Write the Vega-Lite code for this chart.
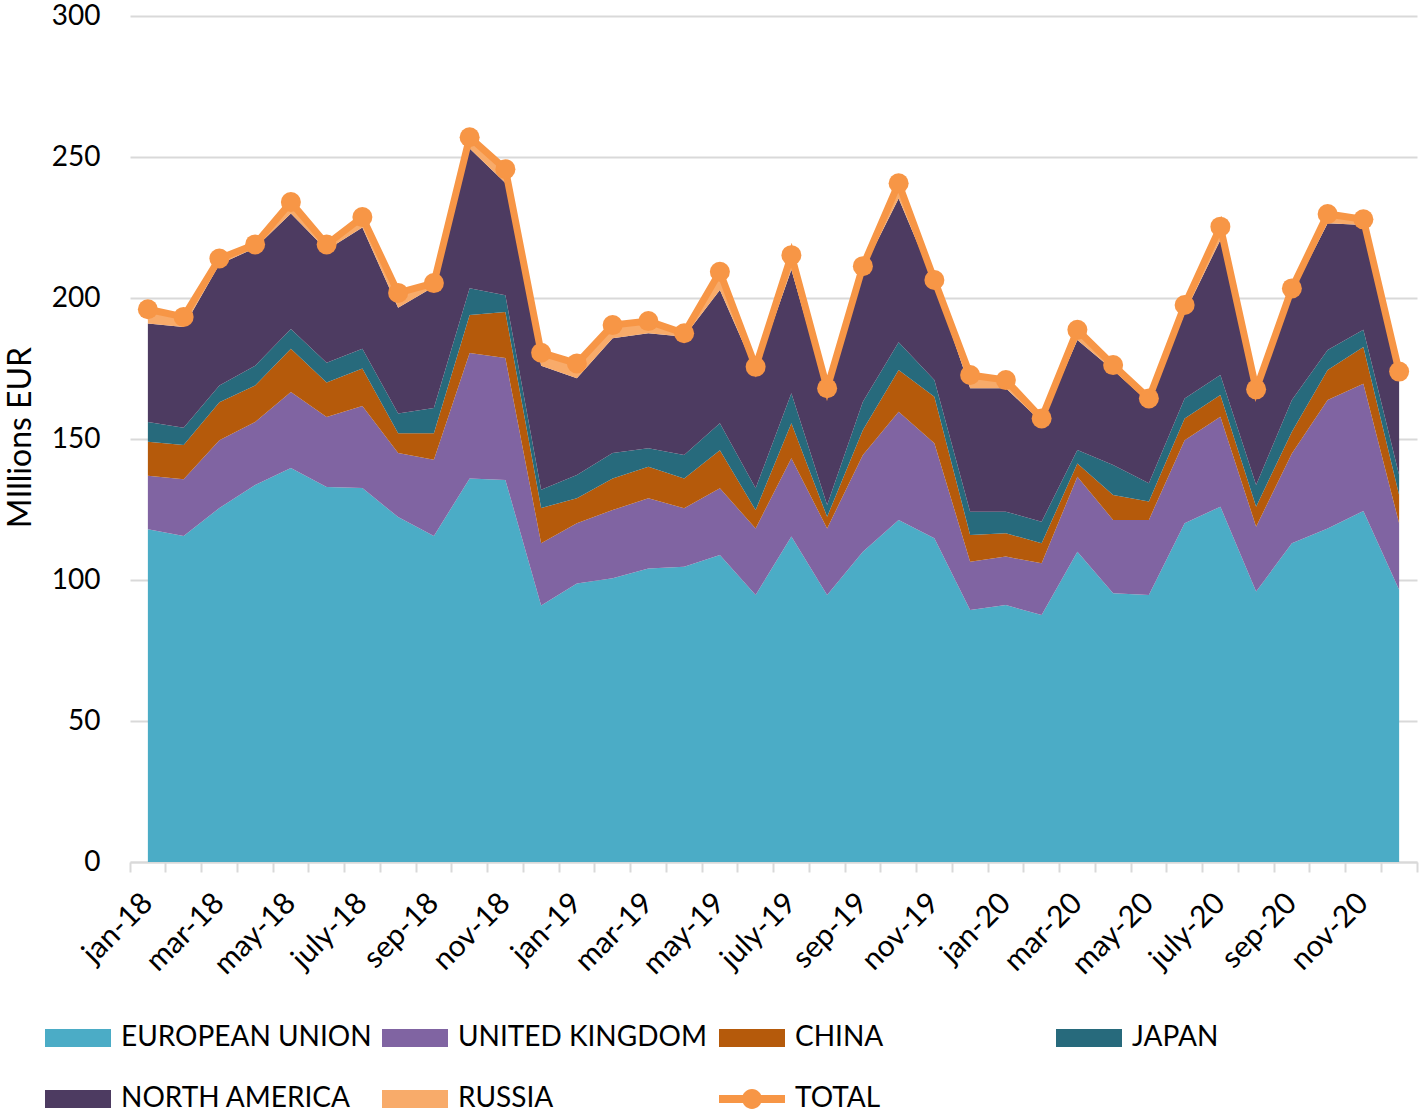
{
  "$schema": "https://vega.github.io/schema/vega-lite/v6.json",
  "width": 1287,
  "height": 846,
  "autosize": {"type": "none"},
  "padding": {"left": 130, "top": 16, "right": 2, "bottom": 255},
  "background": "white",
  "config": {"font": "Lato", "view": {"stroke": null}},
  "data": {
    "values": [
      {"month": "jan-18", "EUROPEAN UNION": 118, "UNITED KINGDOM": 19, "CHINA": 12, "JAPAN": 7, "NORTH AMERICA": 35, "RUSSIA": 5, "TOTAL": 196},
      {"month": "feb-18", "EUROPEAN UNION": 115.6, "UNITED KINGDOM": 20.1, "CHINA": 12.2, "JAPAN": 6.1, "NORTH AMERICA": 35.7, "RUSSIA": 3.6, "TOTAL": 193.3},
      {"month": "mar-18", "EUROPEAN UNION": 125.5, "UNITED KINGDOM": 24.1, "CHINA": 13.4, "JAPAN": 6, "NORTH AMERICA": 43, "RUSSIA": 2, "TOTAL": 214},
      {"month": "apr-18", "EUROPEAN UNION": 133.7, "UNITED KINGDOM": 22.3, "CHINA": 13, "JAPAN": 7, "NORTH AMERICA": 41.7, "RUSSIA": 1.3, "TOTAL": 219},
      {"month": "may-18", "EUROPEAN UNION": 139.7, "UNITED KINGDOM": 27, "CHINA": 15.3, "JAPAN": 7, "NORTH AMERICA": 41, "RUSSIA": 4, "TOTAL": 234},
      {"month": "jun-18", "EUROPEAN UNION": 133, "UNITED KINGDOM": 24.8, "CHINA": 12.2, "JAPAN": 7, "NORTH AMERICA": 40, "RUSSIA": 2, "TOTAL": 219},
      {"month": "july-18", "EUROPEAN UNION": 132.6, "UNITED KINGDOM": 29.1, "CHINA": 13.3, "JAPAN": 7, "NORTH AMERICA": 43, "RUSSIA": 3.7, "TOTAL": 228.7},
      {"month": "aug-18", "EUROPEAN UNION": 122.3, "UNITED KINGDOM": 22.7, "CHINA": 7, "JAPAN": 7, "NORTH AMERICA": 37.5, "RUSSIA": 5.3, "TOTAL": 201.8},
      {"month": "sep-18", "EUROPEAN UNION": 115.6, "UNITED KINGDOM": 27, "CHINA": 9.4, "JAPAN": 9, "NORTH AMERICA": 43, "RUSSIA": 1.3, "TOTAL": 205.3},
      {"month": "oct-18", "EUROPEAN UNION": 136, "UNITED KINGDOM": 44.5, "CHINA": 13.5, "JAPAN": 9.5, "NORTH AMERICA": 49.5, "RUSSIA": 4, "TOTAL": 257},
      {"month": "nov-18", "EUROPEAN UNION": 135.5, "UNITED KINGDOM": 43.2, "CHINA": 16.3, "JAPAN": 6, "NORTH AMERICA": 39.8, "RUSSIA": 4.9, "TOTAL": 245.7},
      {"month": "dec-18", "EUROPEAN UNION": 91, "UNITED KINGDOM": 22, "CHINA": 12.5, "JAPAN": 6.5, "NORTH AMERICA": 44, "RUSSIA": 4.6, "TOTAL": 180.6},
      {"month": "jan-19", "EUROPEAN UNION": 98.8, "UNITED KINGDOM": 21.3, "CHINA": 8.9, "JAPAN": 8.2, "NORTH AMERICA": 34.3, "RUSSIA": 5.3, "TOTAL": 176.8},
      {"month": "feb-19", "EUROPEAN UNION": 100.6, "UNITED KINGDOM": 24.2, "CHINA": 11.2, "JAPAN": 9, "NORTH AMERICA": 40.7, "RUSSIA": 4.7, "TOTAL": 190.4},
      {"month": "mar-19", "EUROPEAN UNION": 104.1, "UNITED KINGDOM": 24.9, "CHINA": 11.2, "JAPAN": 6.5, "NORTH AMERICA": 40.8, "RUSSIA": 4.3, "TOTAL": 191.8},
      {"month": "apr-19", "EUROPEAN UNION": 104.7, "UNITED KINGDOM": 20.7, "CHINA": 10.6, "JAPAN": 8.3, "NORTH AMERICA": 42, "RUSSIA": 1.2, "TOTAL": 187.5},
      {"month": "may-19", "EUROPEAN UNION": 108.9, "UNITED KINGDOM": 23.6, "CHINA": 13.5, "JAPAN": 9.6, "NORTH AMERICA": 47.2, "RUSSIA": 6.5, "TOTAL": 209.3},
      {"month": "jun-19", "EUROPEAN UNION": 94.7, "UNITED KINGDOM": 23.6, "CHINA": 6.5, "JAPAN": 7.7, "NORTH AMERICA": 41.5, "RUSSIA": 1.6, "TOTAL": 175.6},
      {"month": "july-19", "EUROPEAN UNION": 115.4, "UNITED KINGDOM": 27.8, "CHINA": 12.4, "JAPAN": 10.6, "NORTH AMERICA": 43.8, "RUSSIA": 5.2, "TOTAL": 215.2},
      {"month": "aug-19", "EUROPEAN UNION": 94.7, "UNITED KINGDOM": 23.6, "CHINA": 4.1, "JAPAN": 4.2, "NORTH AMERICA": 39.4, "RUSSIA": 2, "TOTAL": 168},
      {"month": "sep-19", "EUROPEAN UNION": 110, "UNITED KINGDOM": 34.3, "CHINA": 8.9, "JAPAN": 10, "NORTH AMERICA": 46.8, "RUSSIA": 1.3, "TOTAL": 211.3},
      {"month": "oct-19", "EUROPEAN UNION": 121.3, "UNITED KINGDOM": 38.4, "CHINA": 14.8, "JAPAN": 9.8, "NORTH AMERICA": 51, "RUSSIA": 5.4, "TOTAL": 240.7},
      {"month": "nov-19", "EUROPEAN UNION": 114.8, "UNITED KINGDOM": 33.7, "CHINA": 16.5, "JAPAN": 5.9, "NORTH AMERICA": 34.3, "RUSSIA": 1.2, "TOTAL": 206.4},
      {"month": "dec-19", "EUROPEAN UNION": 89.4, "UNITED KINGDOM": 17.1, "CHINA": 9.5, "JAPAN": 8.2, "NORTH AMERICA": 43.8, "RUSSIA": 4.7, "TOTAL": 172.7},
      {"month": "jan-20", "EUROPEAN UNION": 91.1, "UNITED KINGDOM": 17.2, "CHINA": 8.3, "JAPAN": 7.6, "NORTH AMERICA": 43.8, "RUSSIA": 2.9, "TOTAL": 170.9},
      {"month": "feb-20", "EUROPEAN UNION": 87.6, "UNITED KINGDOM": 18.3, "CHINA": 7.1, "JAPAN": 7.7, "NORTH AMERICA": 35.3, "RUSSIA": 1.3, "TOTAL": 157.3},
      {"month": "mar-20", "EUROPEAN UNION": 110, "UNITED KINGDOM": 26.6, "CHINA": 4.7, "JAPAN": 4.8, "NORTH AMERICA": 39, "RUSSIA": 3.6, "TOTAL": 188.7},
      {"month": "apr-20", "EUROPEAN UNION": 95.3, "UNITED KINGDOM": 26, "CHINA": 8.8, "JAPAN": 10.7, "NORTH AMERICA": 33.7, "RUSSIA": 1.7, "TOTAL": 176.2},
      {"month": "may-20", "EUROPEAN UNION": 94.7, "UNITED KINGDOM": 26.6, "CHINA": 6.5, "JAPAN": 6.5, "NORTH AMERICA": 28.7, "RUSSIA": 1.4, "TOTAL": 164.4},
      {"month": "jun-20", "EUROPEAN UNION": 120.1, "UNITED KINGDOM": 29.5, "CHINA": 7.7, "JAPAN": 7.1, "NORTH AMERICA": 30.2, "RUSSIA": 2.9, "TOTAL": 197.5},
      {"month": "july-20", "EUROPEAN UNION": 126, "UNITED KINGDOM": 31.9, "CHINA": 7.7, "JAPAN": 7.1, "NORTH AMERICA": 47.9, "RUSSIA": 4.7, "TOTAL": 225.3},
      {"month": "aug-20", "EUROPEAN UNION": 95.9, "UNITED KINGDOM": 23, "CHINA": 7.1, "JAPAN": 7.7, "NORTH AMERICA": 32.3, "RUSSIA": 1.6, "TOTAL": 167.6},
      {"month": "sep-20", "EUROPEAN UNION": 113, "UNITED KINGDOM": 31.9, "CHINA": 7.7, "JAPAN": 11.2, "NORTH AMERICA": 37.9, "RUSSIA": 1.7, "TOTAL": 203.4},
      {"month": "oct-20", "EUROPEAN UNION": 118.3, "UNITED KINGDOM": 45.5, "CHINA": 10.7, "JAPAN": 7.1, "NORTH AMERICA": 44.9, "RUSSIA": 3.3, "TOTAL": 229.8},
      {"month": "nov-20", "EUROPEAN UNION": 124.5, "UNITED KINGDOM": 45.1, "CHINA": 13, "JAPAN": 6.1, "NORTH AMERICA": 37.2, "RUSSIA": 2, "TOTAL": 227.9},
      {"month": "dec-20", "EUROPEAN UNION": 96.5, "UNITED KINGDOM": 23.6, "CHINA": 10, "JAPAN": 7.1, "NORTH AMERICA": 34.8, "RUSSIA": 1.9, "TOTAL": 173.9}
    ]
  },
  "layer": [
    {
      "transform": [
        {"fold": ["EUROPEAN UNION", "UNITED KINGDOM", "CHINA", "JAPAN", "NORTH AMERICA", "RUSSIA"], "as": ["series", "value"]},
        {"window": [{"op": "row_number", "as": "stack_rank"}], "groupby": ["month"]}
      ],
      "mark": {"type": "area", "opacity": 1},
      "encoding": {
        "x": {
          "field": "month", "type": "ordinal", "sort": null, "bandPosition": 0.5,
          "scale": {"type": "band", "paddingInner": 0, "paddingOuter": 0},
          "axis": {
            "orient": "bottom", "bandPosition": 1, "tickExtra": true, "labels": false,
            "ticks": true, "tickSize": 10, "tickColor": "#D9D9D9", "tickWidth": 2,
            "domain": true, "domainColor": "#D9D9D9", "domainWidth": 2, "grid": false, "title": null
          }
        },
        "y": {
          "field": "value", "type": "quantitative", "stack": "zero",
          "scale": {"domain": [0, 300], "nice": false},
          "axis": {
            "values": [0, 50, 100, 150, 200, 250, 300],
            "grid": true, "gridColor": "#D9D9D9", "gridWidth": 2,
            "domain": false, "ticks": false,
            "labelFont": "Lato", "labelFontSize": 28, "labelColor": "#000000", "labelPadding": 30,
            "title": "MIllions EUR", "titleFont": "Lato", "titleFontSize": 32, "titleFontWeight": "normal",
            "titleColor": "#000000", "titleX": -110, "titleY": 421, "titleAngle": -90,
            "titleAlign": "center", "titleBaseline": "middle"
          }
        },
        "order": {"field": "stack_rank", "type": "quantitative"},
        "color": {
          "field": "series", "type": "nominal",
          "scale": {
            "domain": ["EUROPEAN UNION", "UNITED KINGDOM", "CHINA", "JAPAN", "NORTH AMERICA", "RUSSIA", "TOTAL"],
            "range": ["#4BACC6", "#8064A2", "#B55A0B", "#276A7C", "#4D3B61", "#F8AB6A", "#F79646"]
          },
          "legend": {
            "orient": "none", "direction": "horizontal", "legendX": -85, "legendY": 989, "padding": 0,
            "columns": 4, "gridAlign": "all", "columnPadding": 10, "rowPadding": 14,
            "title": null, "labelFont": "Lato", "labelFontSize": 28, "labelColor": "#000000",
            "labelOffset": 10, "labelLimit": 500,
            "symbolSize": 4356,
            "symbolType": {"expr": "datum.value === 'TOTAL' ? 'M-1,-0.12H1V0.12H-1Z M0.3,0A0.3,0.3 0 1 1 -0.3,0A0.3,0.3 0 1 1 0.3,0Z' : 'M-1,-0.27H1V0.27H-1Z'"},
            "symbolStrokeWidth": 0, "symbolOpacity": 1
          }
        }
      }
    },
    {
      "mark": {"type": "line", "strokeWidth": 7, "point": {"filled": true, "size": 400, "opacity": 1}},
      "encoding": {
        "x": {
          "field": "month", "type": "ordinal", "sort": null, "bandPosition": 0.5,
          "axis": {
            "orient": "bottom", "bandPosition": 0.5,
            "values": ["jan-18", "mar-18", "may-18", "july-18", "sep-18", "nov-18", "jan-19", "mar-19", "may-19", "july-19", "sep-19", "nov-19", "jan-20", "mar-20", "may-20", "july-20", "sep-20", "nov-20"],
            "ticks": false, "domain": false, "grid": false, "title": null,
            "labelAngle": -45, "labelAlign": "right", "labelBaseline": "middle",
            "labelPadding": 36, "labelFont": "Lato", "labelFontSize": 30, "labelColor": "#000000"
          }
        },
        "y": {"field": "TOTAL", "type": "quantitative"},
        "color": {"datum": "TOTAL"}
      }
    }
  ],
  "resolve": {"axis": {"x": "independent"}}
}
